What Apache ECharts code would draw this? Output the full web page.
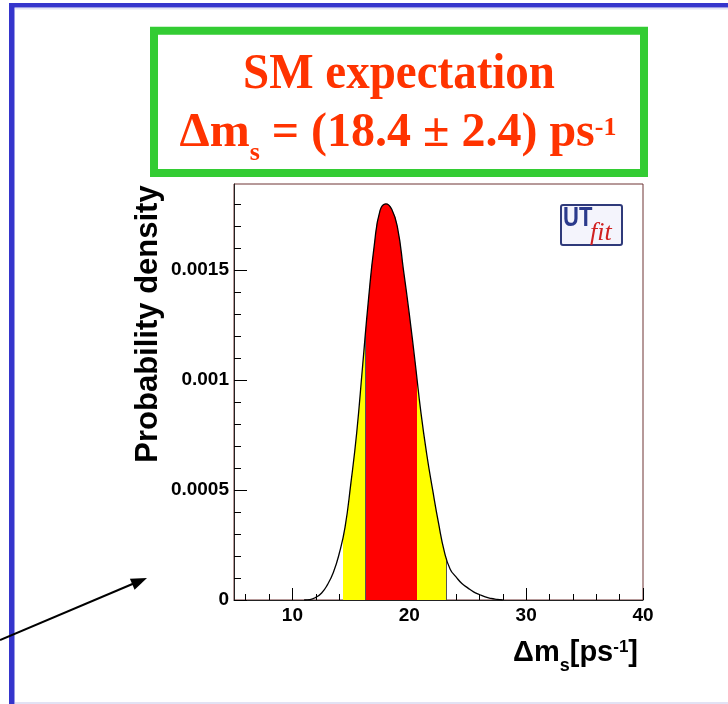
<!DOCTYPE html>
<html>
<head>
<meta charset="utf-8">
<script src="https://cdn.jsdelivr.net/npm/echarts@6/dist/echarts.min.js"></script>
<style>
html, body { margin: 0; padding: 0; background: #fff; }
#chart { width: 728px; height: 704px; }
</style>
</head>
<body>
<div id="chart"></div>
<script>
// Δms probability density
const dmsValues = [11, 11.5, 12, 12.5, 13, 13.5, 14, 14.5, 15, 15.5, 16, 16.5, 17, 17.5, 18, 18.5, 19, 19.5, 20, 20.5, 21, 21.5, 22, 22.5, 23, 23.5, 24, 24.5, 25, 25.5, 26, 26.5, 27, 27.5, 28];
const density = [0, 0.000002, 0.000012, 0.000032, 0.00007, 0.000125, 0.00021, 0.00033, 0.00053, 0.00076, 0.00106, 0.00136, 0.00161, 0.00177, 0.0018, 0.001775, 0.00169, 0.0015, 0.0013, 0.00108, 0.00085, 0.00066, 0.0005, 0.00035, 0.00022, 0.00014, 0.000105, 0.000075, 0.000055, 0.000037, 0.000025, 0.000014, 0.000007, 0.000003, 0];

// probability ranges (68% red, 95% yellow)
const band68 = [16.2, 20.7];
const band95 = [14.3, 23.2];

// axis ticks
const xTickLabels = [10, 20, 30, 40];
const xMinorTicks = [6, 8, 12, 14, 16, 18, 22, 24, 26, 28, 32, 34, 36, 38];
const yTickLabels = [0, 0.0005, 0.001, 0.0015];
const yMinorTicks = [0.0001, 0.0002, 0.0003, 0.0004, 0.0006, 0.0007, 0.0008, 0.0009, 0.0011, 0.0012, 0.0013, 0.0014, 0.0016, 0.0017, 0.0018];

const curve = dmsValues.map((x, i) => [x, density[i]]);

const labelFont = { fontFamily: 'Liberation Sans', fontWeight: 'bold', fontSize: 19, color: '#000' };
const titleRed = '#ff3300';
const edgeW = 0.07; // thin dark line at each band edge

let myChart = echarts.init(document.getElementById('chart'), null, { renderer: 'canvas' });

let option = {
    backgroundColor: '#fff',
    animation: false,
    grid: {
        left: 234, right: 85, top: 184, bottom: 104,
        show: true, borderColor: '#6e3434', borderWidth: 1
    },
    xAxis: [{
        type: 'value', min: 5, max: 40,
        axisLine: { show: true, lineStyle: { color: '#222', width: 1 } },
        axisTick: { inside: true, length: 12, customValues: xTickLabels, lineStyle: { color: '#000' } },
        axisLabel: Object.assign({ customValues: xTickLabels, margin: 6 }, labelFont),
        splitLine: { show: false }
    }, {
        type: 'value', min: 5, max: 40, position: 'bottom',
        axisLine: { show: false },
        axisTick: { inside: true, length: 6, customValues: xMinorTicks, lineStyle: { color: '#000' } },
        axisLabel: { show: false },
        splitLine: { show: false }
    }],
    yAxis: [{
        type: 'value', min: 0, max: 0.00189,
        axisLine: { show: true, lineStyle: { color: '#222', width: 1 } },
        axisTick: { inside: true, length: 13, customValues: yTickLabels, lineStyle: { color: '#000' } },
        axisLabel: Object.assign({ customValues: yTickLabels, margin: 5, formatter: v => String(v) }, labelFont),
        splitLine: { show: false }
    }, {
        type: 'value', min: 0, max: 0.00189, position: 'left',
        axisLine: { show: false },
        axisTick: { inside: true, length: 7, customValues: yMinorTicks, lineStyle: { color: '#000' } },
        axisLabel: { show: false },
        splitLine: { show: false }
    }],
    visualMap: {
        show: false,
        type: 'piecewise',
        seriesIndex: 1,
        dimension: 0,
        pieces: [
            { gte: band95[0], lt: band95[0] + edgeW, color: '#555' },
            { gte: band95[0] + edgeW, lt: band68[0], color: '#ffff00' },
            { gte: band68[0], lt: band68[0] + edgeW, color: '#555' },
            { gte: band68[0] + edgeW, lt: band68[1] - edgeW, color: '#ff0000' },
            { gte: band68[1] - edgeW, lte: band68[1], color: '#555' },
            { gt: band68[1], lt: band95[1] - edgeW, color: '#ffff00' },
            { gte: band95[1] - edgeW, lte: band95[1], color: '#555' }
        ],
        outOfRange: { color: 'rgba(255,255,255,0)' }
    },
    series: [{
        type: 'line',
        data: curve,
        smooth: true,
        showSymbol: false,
        lineStyle: { color: '#000', width: 1.3 },
        z: 4
    }, {
        type: 'line',
        data: curve,
        smooth: true,
        showSymbol: false,
        lineStyle: { width: 0, opacity: 0 },
        areaStyle: { opacity: 1 },
        z: 2
    }],
    graphic: [
        // slide frame
        { type: 'rect', shape: { x: 9, y: 3, width: 5.5, height: 701 }, style: { fill: '#3535cc' } },
        { type: 'rect', shape: { x: 9, y: 3, width: 719, height: 4.5 }, style: { fill: '#3535cc' } },
        { type: 'rect', shape: { x: 15, y: 8, width: 713, height: 1.5 }, style: { fill: '#e2e2f4' } },
        { type: 'rect', shape: { x: 15, y: 702, width: 713, height: 2 }, style: { fill: '#e2e2f4' } },
        // green box with SM expectation
        { type: 'rect', shape: { x: 154, y: 30.7, width: 490, height: 142.3 }, style: { fill: 'none', stroke: '#33cc33', lineWidth: 8 } },
        {
            type: 'text', x: 399, y: 75, scaleY: 1.06,
            style: { text: 'SM expectation', fontFamily: 'Liberation Serif', fontWeight: 'bold', fontSize: 47, fill: titleRed, align: 'center', verticalAlign: 'middle' }
        },
        {
            type: 'text', x: 398, y: 134,
            style: {
                text: '{m|Δm}{sub|s}{m| = (18.4 ± 2.4) ps}{sup|-1}',
                align: 'center', verticalAlign: 'middle',
                rich: {
                    m: { fontFamily: 'Liberation Serif', fontWeight: 'bold', fontSize: 48, fill: titleRed },
                    sub: { fontFamily: 'Liberation Serif', fontWeight: 'bold', fontSize: 26, fill: titleRed, padding: [38, 0, 0, 0] },
                    sup: { fontFamily: 'Liberation Serif', fontWeight: 'bold', fontSize: 26, fill: titleRed, padding: [0, 0, 12, 0] }
                }
            }
        },
        // y axis title
        {
            type: 'text', x: 148.5, y: 324, rotation: Math.PI / 2,
            style: { text: 'Probability density', fontFamily: 'Liberation Sans', fontWeight: 'bold', fontSize: 31, fill: '#000', align: 'center', verticalAlign: 'middle' }
        },
        // x axis title
        {
            type: 'text', x: 638, y: 652.5,
            style: {
                text: '{m|Δm}{sub|s}{m|[ps}{sup|-1}{m|]}',
                align: 'right', verticalAlign: 'middle',
                rich: {
                    m: { fontFamily: 'Liberation Sans', fontWeight: 'bold', fontSize: 29, fill: '#000' },
                    sub: { fontFamily: 'Liberation Sans', fontWeight: 'bold', fontSize: 18, fill: '#000', padding: [28, 0, 0, 0] },
                    sup: { fontFamily: 'Liberation Sans', fontWeight: 'bold', fontSize: 17, fill: '#000', padding: [0, 0, 11, 0] }
                }
            }
        },
        // UTfit logo
        { type: 'rect', shape: { x: 561, y: 205, width: 61, height: 40, r: 2 }, style: { fill: '#f4f4fc', stroke: '#2f3a7a', lineWidth: 2 }, z: 10 },
        { type: 'text', x: 563, y: 218, scaleY: 1.25, z: 11, style: { text: 'UT', fontFamily: 'Liberation Sans', fontWeight: 'bold', fontSize: 22, fill: '#2b3a8c', verticalAlign: 'middle' } },
        { type: 'text', x: 590, y: 233, z: 11, style: { text: 'fit', fontFamily: 'Liberation Serif', fontStyle: 'italic', fontSize: 26, fill: '#d02020', verticalAlign: 'middle' } },
        // arrow
        { type: 'line', shape: { x1: 0, y1: 640, x2: 136, y2: 582.5 }, style: { stroke: '#000', lineWidth: 2 }, z: 10 },
        { type: 'polygon', shape: { points: [[147, 578], [134.6, 589.7], [129.9, 578.7]] }, style: { fill: '#000' }, z: 10 }
    ]
};
myChart.setOption(option);
</script>
</body>
</html>
